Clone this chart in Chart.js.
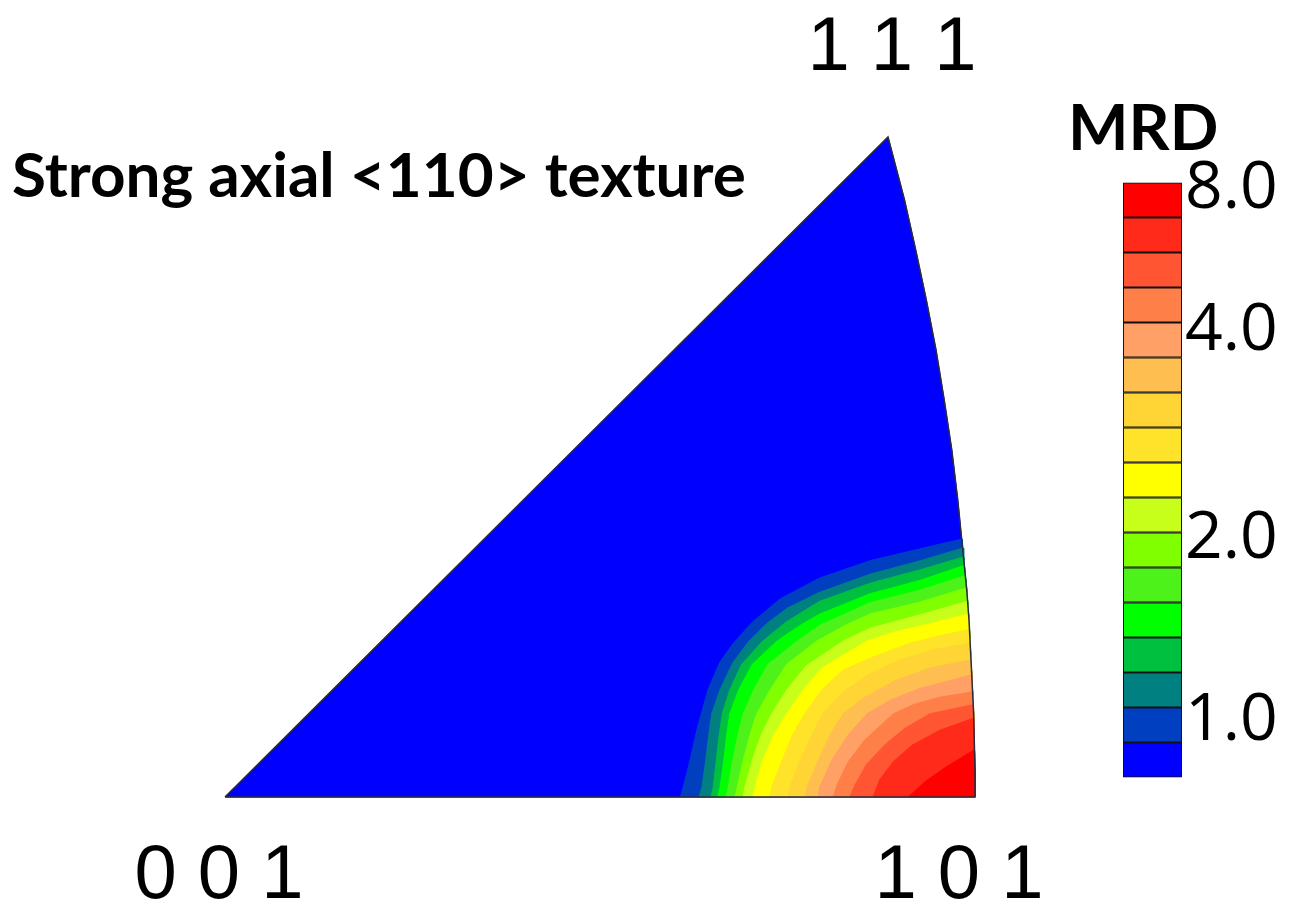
<!DOCTYPE html>
<html>
<head>
<meta charset="utf-8">
<title>Strong axial &lt;110&gt; texture</title>
<script src="https://cdn.jsdelivr.net/npm/chart.js@4.4.1/dist/chart.umd.min.js"></script>
<style>
    body { margin: 0; background: #fff; }
    #wrap { position: relative; width: 1302px; height: 919px; overflow: hidden; }
    #ipf { position: absolute; left: 0; top: 0; }
    #colorbar { position: absolute; left: 1118px; top: 140px; }
</style>
</head>
<body>
<div id="wrap">
    <canvas id="ipf" width="1302" height="919"></canvas>
    <canvas id="colorbar" width="184" height="680"></canvas>
</div>
<script>
// Stereographic triangle, 0 0 1 at the origin and 1 0 1 at x = 1
const pole001 = [0, 0];
const pole101 = [1, 0];
const pole111 = [0.884, 0.88];

// great circle 1 0 1 -> 1 1 1 (right edge of the triangle)
const arcX = [1.000, 1.000, 0.999, 0.998, 0.996, 0.994, 0.992, 0.989, 0.985, 0.981, 0.977, 0.969, 0.959, 0.948, 0.935, 0.921, 0.906, 0.884];
const arcY = [0.000, 0.036, 0.076, 0.116, 0.156, 0.196, 0.236, 0.276, 0.316, 0.356, 0.396, 0.463, 0.529, 0.596, 0.663, 0.729, 0.796, 0.880];

// MRD iso-lines, read from the bottom edge up to the great circle
const iso01 = [[0.607,0],[0.611,0.013],[0.620,0.049],[0.629,0.089],[0.635,0.111],[0.644,0.143],[0.660,0.180],[0.677,0.204],[0.703,0.233],[0.740,0.264],[0.793,0.292],[0.860,0.315],[0.927,0.331],[0.983,0.344]];
const iso02 = [[0.632,0],[0.636,0.013],[0.641,0.049],[0.645,0.083],[0.649,0.111],[0.660,0.143],[0.677,0.179],[0.698,0.207],[0.722,0.231],[0.750,0.252],[0.793,0.273],[0.860,0.297],[0.927,0.315],[0.984,0.332]];
const iso03 = [[0.648,0],[0.651,0.013],[0.655,0.049],[0.659,0.083],[0.663,0.111],[0.673,0.143],[0.689,0.177],[0.717,0.208],[0.749,0.234],[0.793,0.261],[0.860,0.285],[0.927,0.303],[0.985,0.320]];
const iso04 = [[0.657,0],[0.660,0.013],[0.665,0.049],[0.669,0.083],[0.673,0.111],[0.685,0.143],[0.703,0.177],[0.736,0.208],[0.767,0.229],[0.793,0.244],[0.860,0.271],[0.927,0.289],[0.986,0.309]];
const iso05 = [[0.668,0],[0.671,0.013],[0.677,0.049],[0.684,0.083],[0.691,0.111],[0.705,0.143],[0.724,0.177],[0.763,0.208],[0.793,0.229],[0.860,0.259],[0.927,0.276],[0.987,0.295]];
const iso06 = [[0.680,0],[0.683,0.013],[0.691,0.049],[0.700,0.083],[0.709,0.111],[0.727,0.143],[0.749,0.177],[0.789,0.208],[0.827,0.229],[0.860,0.244],[0.927,0.260],[0.989,0.279]];
const iso07 = [[0.691,0],[0.693,0.013],[0.703,0.049],[0.715,0.083],[0.729,0.111],[0.749,0.143],[0.775,0.175],[0.824,0.208],[0.860,0.225],[0.927,0.243],[0.990,0.261]];
const iso08 = [[0.704,0],[0.707,0.013],[0.717,0.049],[0.732,0.083],[0.749,0.111],[0.771,0.143],[0.796,0.172],[0.856,0.208],[0.893,0.220],[0.927,0.228],[0.991,0.244]];
const iso09 = [[0.727,0],[0.729,0.013],[0.743,0.049],[0.757,0.083],[0.773,0.111],[0.796,0.143],[0.824,0.169],[0.860,0.185],[0.913,0.205],[0.953,0.215],[0.992,0.223]];
const iso10 = [[0.751,0],[0.753,0.013],[0.767,0.049],[0.783,0.083],[0.797,0.111],[0.824,0.140],[0.857,0.163],[0.900,0.183],[0.947,0.197],[0.993,0.205]];
const iso11 = [[0.773,0],[0.776,0.013],[0.791,0.049],[0.807,0.083],[0.824,0.111],[0.853,0.133],[0.893,0.155],[0.940,0.172],[0.995,0.183]];
const iso12 = [[0.791,0],[0.793,0.013],[0.809,0.049],[0.831,0.083],[0.856,0.111],[0.887,0.129],[0.927,0.145],[0.996,0.163]];
const iso13 = [[0.811,0],[0.816,0.016],[0.831,0.047],[0.853,0.076],[0.891,0.111],[0.920,0.124],[0.953,0.133],[0.996,0.140]];
const iso14 = [[0.833,0],[0.840,0.016],[0.855,0.043],[0.879,0.069],[0.907,0.092],[0.940,0.111],[0.997,0.123]];
const iso15 = [[0.864,0],[0.873,0.023],[0.891,0.047],[0.916,0.069],[0.953,0.089],[0.998,0.105]];
const iso16 = [[0.911,0],[0.933,0.020],[0.960,0.039],[0.999,0.063]];
const isoLines = [iso01, iso02, iso03, iso04, iso05, iso06, iso07, iso08, iso09, iso10, iso11, iso12, iso13, iso14, iso15, iso16];

// colour bands, lowest MRD first
const bandColors = ['#0000ff', '#0040c0', '#008080', '#00c040', '#00ff00', '#4cf21a', '#80ff00', '#c8ff1a',
                    '#ffff00', '#ffe22a', '#ffd535', '#ffbf50', '#ffa066', '#ff7f48', '#ff5533', '#ff2a1a', '#ff0000'];
const mrdTickLabels = ['1.0', '2.0', '4.0', '8.0'];
const mrdTickBands = [1.6, 6.8, 12.75, 16.8];

const chartTitle = 'Strong axial <110> texture';
const colorbarTitle = 'MRD';

const toPts = arr => arr.map(([x, y]) => ({ x, y }));
const arcPts = arcX.map((x, i) => ({ x, y: arcY[i] }));
const trianglePts = [{ x: pole001[0], y: pole001[1] }, ...arcPts, { x: pole001[0], y: pole001[1] }];

// region above an iso-line: line, then down the great circle to 1 0 1
function regionFor(line) {
    const pts = toPts(line);
    const top = pts[pts.length - 1].y;
    const below = arcPts.filter(p => p.y < top).reverse();
    return pts.concat(below);
}

const datasets = [{
    data: trianglePts,
    backgroundColor: bandColors[0],
    borderColor: bandColors[0],
    borderWidth: 1,
    fill: 'shape',
    order: 100
}];
isoLines.forEach((line, i) => {
    datasets.push({
        data: regionFor(line),
        backgroundColor: bandColors[i + 1],
        borderColor: bandColors[i + 1],
        borderWidth: 1,
        fill: 'shape',
        order: 50 - i
    });
});
// thin outline on top
datasets.push({
    data: trianglePts,
    borderColor: '#2b2b3c',
    borderWidth: 1.5,
    fill: false,
    order: 0
});

const labelPlugin = {
    id: 'ipfLabels',
    afterDraw(chart) {
        const { ctx, scales } = chart;
        const px = v => scales.x.getPixelForValue(v);
        const py = v => scales.y.getPixelForValue(v);
        ctx.save();
        ctx.fillStyle = '#000';
        ctx.textBaseline = 'alphabetic';
        ctx.textAlign = 'left';
        ctx.font = 'bold 62px Lato';
        ctx.fillText(chartTitle, 12, 197);
        ctx.font = 'bold 64px Lato';
        ctx.fillText(colorbarTitle, 1068, 150);
        ctx.textAlign = 'center';
        ctx.font = '76px "Liberation Sans"';
        ctx.fillText('0 0 1', px(pole001[0]) - 6, py(pole001[1]) + 101);
        ctx.fillText('1 0 1', px(pole101[0]) - 16, py(pole101[1]) + 101);
        ctx.fillText('1 1 1', px(pole111[0]) + 4, py(pole111[1]) - 67);
        ctx.restore();
    }
};

new Chart(document.getElementById('ipf'), {
    type: 'line',
    data: { datasets },
    options: {
        responsive: false,
        animation: false,
        events: [],
        layout: { padding: 0 },
        elements: { point: { radius: 0 }, line: { tension: 0 } },
        plugins: { legend: { display: false }, tooltip: { enabled: false } },
        scales: {
            x: { type: 'linear', min: -0.3, max: 1.436, display: false },
            y: { type: 'linear', min: -0.1627, max: 1.0627, display: false }
        }
    },
    plugins: [labelPlugin]
});

new Chart(document.getElementById('colorbar'), {
    type: 'bar',
    data: {
        labels: [colorbarTitle],
        datasets: bandColors.map(c => ({
            data: [1],
            backgroundColor: c,
            borderColor: '#111',
            borderWidth: 1.3,
            borderSkipped: false,
            barPercentage: 1,
            categoryPercentage: 1
        }))
    },
    options: {
        responsive: false,
        animation: false,
        events: [],
        layout: { padding: { left: 5, top: 32, bottom: 35, right: 0 } },
        plugins: { legend: { display: false }, tooltip: { enabled: false } },
        scales: {
            x: { stacked: true, display: false },
            y: {
                stacked: true,
                min: 0,
                max: 17,
                position: 'right',
                grid: { display: false, drawTicks: false },
                border: { display: false },
                afterFit: s => { s.width = 120; },
                afterBuildTicks: s => { s.ticks = mrdTickBands.map(v => ({ value: v })); },
                ticks: {
                    autoSkip: false,
                    padding: 3,
                    color: '#000',
                    font: { family: 'Open Sans', size: 66 },
                    callback: v => mrdTickLabels[mrdTickBands.indexOf(v)]
                }
            }
        }
    }
});
</script>
</body>
</html>
